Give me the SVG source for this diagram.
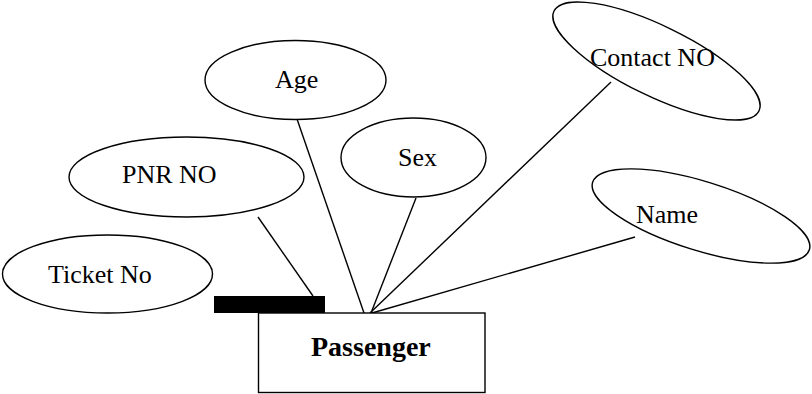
<svg xmlns="http://www.w3.org/2000/svg" width="812" height="394" viewBox="0 0 812 394">
<style>
.shape{fill:#fff;stroke:#000;stroke-width:1.4}
.conn line{stroke:#000;stroke-width:1.4}
text{font-family:"Liberation Serif","Times New Roman",serif;font-size:26px;fill:#000}
.bold{font-weight:bold;font-size:28px}
</style>
<rect width="812" height="394" fill="#fff"/>
<g id="connectors" class="conn">
<line x1="258" y1="217" x2="313" y2="296"/>
<line x1="297" y1="119" x2="364" y2="313"/>
<line x1="416" y1="198" x2="371" y2="313"/>
<line x1="611" y1="82" x2="370" y2="313"/>
<line x1="635" y1="237" x2="372" y2="313"/>
</g>
<g id="passenger">
<rect class="shape" x="258.5" y="313" width="226.5" height="79.5"/>
<rect x="214" y="296" width="111" height="17" fill="#000"/>
<text class="bold" x="311" y="356">Passenger</text>
</g>
<g id="ticket-no">
<ellipse class="shape" cx="107.5" cy="274" rx="105" ry="39"/>
<text x="48" y="283">Ticket No</text>
</g>
<g id="pnr-no">
<ellipse class="shape" cx="186.5" cy="177" rx="117.5" ry="40"/>
<text x="122" y="183">PNR NO</text>
</g>
<g id="age">
<ellipse class="shape" cx="295.5" cy="80" rx="90.5" ry="39.5"/>
<text x="275" y="88">Age</text>
</g>
<g id="sex">
<ellipse class="shape" cx="413.5" cy="157.5" rx="72.5" ry="39.5"/>
<text x="398" y="166">Sex</text>
</g>
<g id="contact-no">
<ellipse class="shape" cx="656.5" cy="61" rx="114" ry="35" transform="rotate(26 656.5 61)"/>
<text x="590" y="66">Contact NO</text>
</g>
<g id="name">
<ellipse class="shape" cx="701" cy="216" rx="113.5" ry="34.5" transform="rotate(17.3 701 216)"/>
<text x="636" y="223">Name</text>
</g>
</svg>
